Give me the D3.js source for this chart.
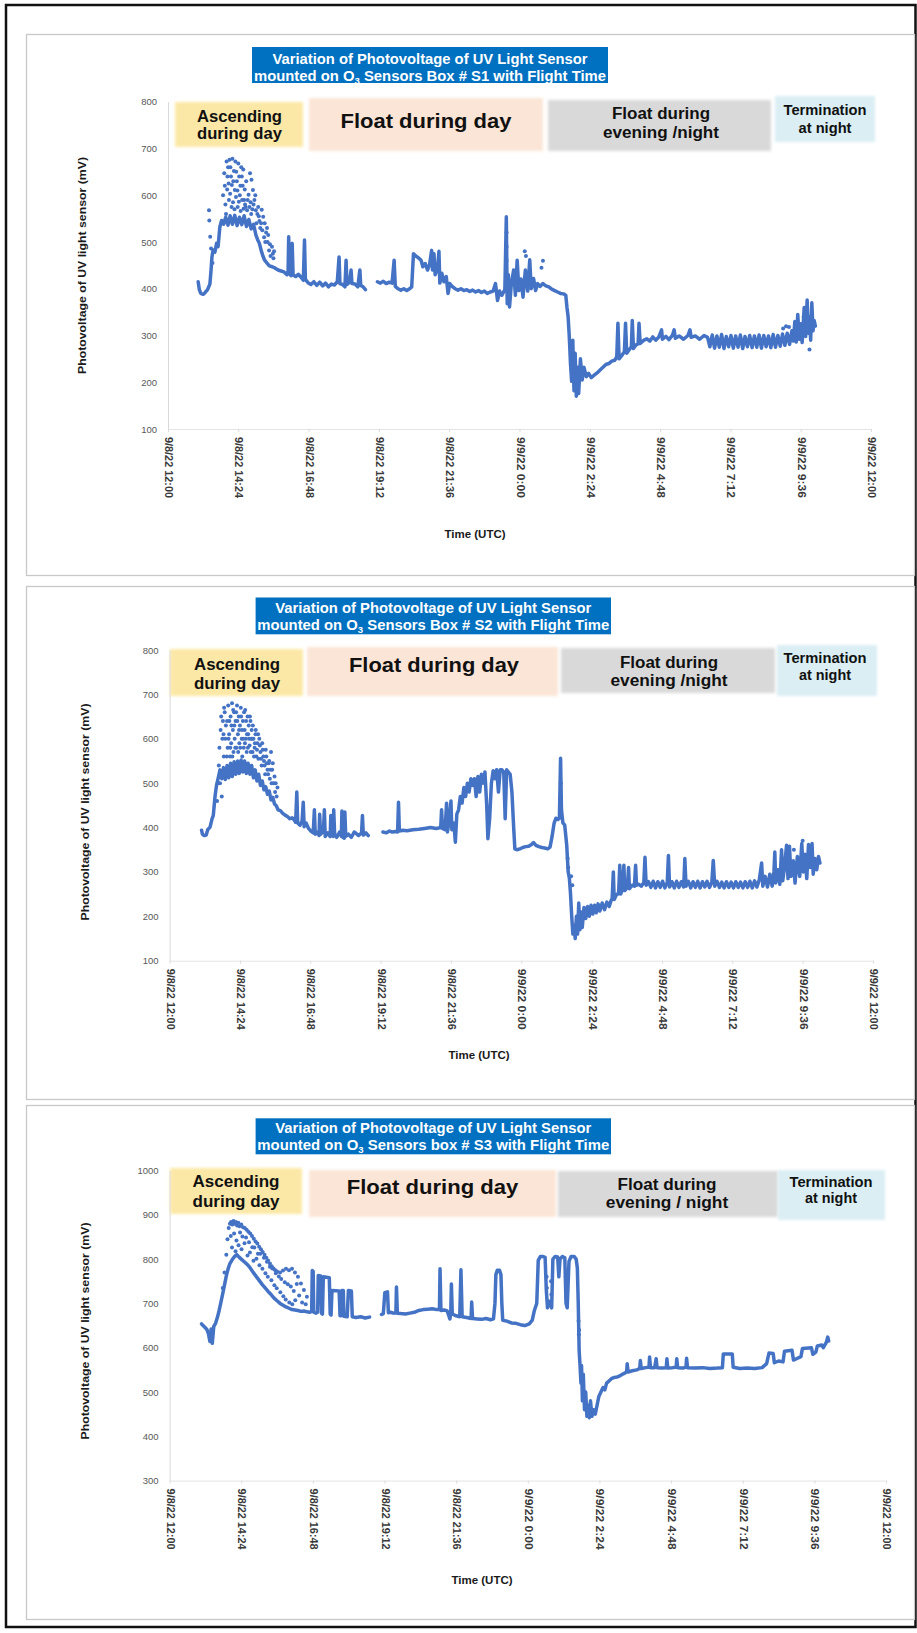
<!DOCTYPE html>
<html>
<head>
<meta charset="utf-8">
<script src="https://cdn.jsdelivr.net/npm/d3@7"></script>
<style>
  html, body { margin: 0; padding: 0; background: #fff; }
  svg { display: block; font-family: "Liberation Sans", Arial, sans-serif; }
</style>
</head>
<body>
<svg id="chart" width="917" height="1633"></svg>
<script>
// ---------------- data ----------------
// time is given in hours after 9/8/22 12:00 UTC
const tickHours = [0, 2.4, 4.8, 7.2, 9.6, 12, 14.4, 16.8, 19.2, 21.6, 24];
const tickLabels = ["9/8/22 12:00", "9/8/22 14:24", "9/8/22 16:48", "9/8/22 19:12", "9/8/22 21:36",
                    "9/9/22 0:00", "9/9/22 2:24", "9/9/22 4:48", "9/9/22 7:12", "9/9/22 9:36", "9/9/22 12:00"];
const yTicksLow = [100, 200, 300, 400, 500, 600, 700, 800];
const yTicksHigh = [300, 400, 500, 600, 700, 800, 900, 1000];

const titleLine1 = "Variation of Photovoltage of UV Light Sensor";
const phaseText = [["Ascending", "during day"], ["Float during day"], ["Float during", "evening /night"], ["Termination", "at night"]];
const phaseTextS3 = [["Ascending", "during day"], ["Float during day"], ["Float during", "evening / night"], ["Termination", "at night"]];
const xTitle = "Time (UTC)";
const yTitle = "Photovoltage of UV light sensor (mV)";

// Sensor box S1: main trace [hour, mV]; null marks a gap in the record
const s1Trace = [
  [1.03,415],[1.07,398],[1.12,390],[1.20,388],[1.27,392],[1.35,398],[1.43,410],[1.47,440],[1.50,468],[1.54,483],
  [1.60,478],[1.66,497],[1.71,490],[1.77,532],[1.83,546],[1.90,538],[1.97,553],[2.05,536],[2.12,556],[2.20,538],
  [2.28,557],[2.36,535],[2.44,553],[2.52,537],[2.60,556],[2.68,533],[2.76,548],[2.84,528],[2.92,538],[3.00,515],
  [3.06,505],[3.12,497],[3.18,482],[3.24,470],[3.30,461],[3.38,455],[3.46,449],[3.56,447],[3.66,444],[3.76,440],
  [3.86,438],[3.96,436],[4.06,430],[4.10,438],[4.12,511],[4.14,432],[4.20,428],[4.24,497],[4.27,430],[4.36,426],
  [4.45,431],[4.55,424],[4.62,418],[4.66,504],[4.69,420],[4.78,413],[4.88,409],[4.98,415],[5.08,407],[5.18,414],
  [5.28,406],[5.38,412],[5.48,404],[5.58,410],[5.68,408],[5.78,415],[5.84,468],[5.87,411],[5.96,409],[6.04,404],
  [6.08,461],[6.11,409],[6.20,414],[6.25,440],[6.28,411],[6.38,410],[6.48,404],[6.55,440],[6.58,407],[6.66,404],
  [6.74,398],
  [6.90,null],
  [7.15,415],[7.25,412],[7.35,416],[7.45,411],[7.55,414],[7.65,412],[7.72,461],[7.76,405],[7.85,400],[7.95,397],
  [8.05,400],[8.15,396],[8.25,400],[8.32,404],[8.38,475],[8.46,470],[8.55,466],[8.64,461],[8.70,447],[8.78,454],
  [8.86,440],[8.93,452],[9.00,482],[9.03,440],[9.08,475],[9.12,430],[9.20,442],[9.25,480],[9.28,412],[9.35,433],
  [9.42,415],[9.50,426],[9.56,390],[9.62,411],[9.70,405],[9.80,400],[9.90,397],[10.00,400],[10.10,396],[10.20,398],
  [10.30,394],[10.40,397],[10.50,393],[10.60,396],[10.70,392],[10.80,395],[10.90,390],[11.00,393],[11.10,395],[11.18,411],
  [11.25,375],[11.32,395],[11.40,386],[11.50,398],[11.55,554],[11.58,368],[11.62,430],[11.66,361],[11.72,410],[11.80,440],
  [11.86,386],[11.92,461],[11.98,396],[12.05,421],[12.12,382],[12.20,440],[12.28,395],[12.35,462],[12.40,400],[12.48,422],
  [12.55,396],[12.62,411],[12.70,405],[12.80,411],[12.90,406],[13.00,404],[13.10,399],[13.20,396],[13.30,393],[13.40,390],
  [13.50,389],[13.58,386],[13.62,360],[13.66,340],[13.70,297],[13.74,240],[13.78,202],[13.82,290],[13.86,182],[13.90,262],
  [13.94,170],[13.98,232],[14.02,176],[14.08,250],[14.14,205],[14.20,232],[14.28,212],[14.36,219],[14.45,210],[14.55,215],
  [14.65,220],[14.75,226],[14.85,232],[14.95,238],[15.05,240],[15.15,245],[15.25,247],[15.32,254],[15.36,326],[15.40,250],
  [15.50,258],[15.58,265],[15.62,326],[15.66,262],[15.75,270],[15.82,276],[15.85,332],[15.89,272],[15.98,280],[16.05,282],
  [16.08,326],[16.12,283],[16.25,290],[16.35,293],[16.45,288],[16.55,297],[16.65,290],[16.75,296],[16.85,312],[16.88,292],
  [17.00,298],[17.10,291],[17.22,300],[17.28,312],[17.32,294],[17.45,299],[17.60,292],[17.75,300],[17.82,312],[17.86,296],
  [18.00,299],[18.15,292],[18.30,300],[18.42,296],[18.50,276],[18.58,301],[18.66,273],[18.74,299],[18.82,275],[18.90,302],
  [18.98,272],[19.06,298],[19.14,276],[19.22,300],[19.30,273],[19.38,299],[19.46,275],[19.54,301],[19.62,272],[19.70,298],
  [19.78,276],[19.86,300],[19.94,274],[20.02,299],[20.10,275],[20.18,301],[20.26,273],[20.34,300],[20.42,276],[20.50,299],
  [20.58,274],[20.66,302],[20.74,275],[20.82,300],[20.90,277],[20.98,303],[21.06,279],[21.14,305],[21.22,281],[21.30,310],
  [21.35,288],[21.40,330],[21.45,286],[21.50,345],[21.55,292],[21.60,325],[21.65,285],[21.72,360],[21.77,298],[21.82,376],
  [21.86,305],[21.90,340],[21.94,290],[21.98,370],[22.02,310],[22.06,332],[22.10,320]
];
// Sensor box S1: scattered readings
const s1Dots = [
  [1.40,568],[1.41,546],[1.44,511],[1.47,486],[1.52,455],
  [1.88,600],[1.92,647],[1.96,580],[2.00,672],[2.02,612],[2.05,660],[2.08,590],[2.10,676],[2.12,603],[2.15,640],
  [2.18,622],[2.20,678],[2.22,585],[2.25,652],[2.28,611],[2.30,672],[2.32,596],[2.35,630],[2.38,575],[2.40,668],
  [2.42,586],[2.45,600],[2.48,566],[2.50,660],[2.52,640],[2.55,620],[2.58,571],[2.60,590],[2.62,612],[2.65,575],
  [2.70,568],[2.75,601],[2.80,647],[2.82,585],[2.85,633],[2.88,570],[2.90,611],[2.95,590],[3.00,568],[3.02,540],
  [3.05,560],[3.10,555],[3.15,530],[3.20,569],[3.25,554],[3.28,510],[3.30,540],[3.35,520],[3.38,530],[3.40,500],
  [3.45,482],[3.50,470],[3.55,490],[3.60,465],
  [1.94,620],[1.98,560],[2.03,640],[2.07,625],[2.13,660],[2.17,575],[2.23,630],[2.27,570],[2.33,650],[2.37,610],
  [2.43,640],[2.47,620],[2.53,590],[2.57,655],[2.63,580],[2.67,630],[2.72,590],[2.78,575],[2.84,560],[2.92,580],
  [2.98,600],[3.08,575],[3.12,545],[3.18,540],[3.22,525],[3.32,500],[3.42,515],[3.48,495],[3.58,475],[3.62,480],
  [11.56,520],[11.56,490],[11.56,460],[11.57,430],[12.18,480],[12.22,470],[12.75,445],[12.80,460],
  [21.00,315],[21.10,320],[21.20,318],[21.70,340],[21.90,270]
];

// Sensor box S2
const s2Trace = [
  [1.09,394],[1.12,385],[1.18,382],[1.25,383],[1.30,395],[1.38,401],[1.45,420],[1.49,427],[1.55,470],[1.60,495],
  [1.66,512],[1.72,530],[1.78,510],[1.84,535],[1.90,508],[1.96,540],[2.02,512],[2.08,545],[2.14,515],[2.20,548],
  [2.26,520],[2.32,550],[2.38,522],[2.44,552],[2.50,525],[2.56,550],[2.62,522],[2.68,545],[2.74,520],[2.80,540],
  [2.86,512],[2.92,530],[2.98,505],[3.04,520],[3.10,495],[3.16,505],[3.22,485],[3.28,492],[3.34,475],[3.40,482],
  [3.46,462],[3.52,468],[3.58,453],[3.64,449],[3.70,440],[3.78,438],[3.86,432],[3.94,428],[4.02,425],[4.10,420],
  [4.18,422],[4.24,418],[4.30,412],[4.34,480],[4.37,410],[4.45,405],[4.52,415],[4.56,457],[4.59,402],[4.66,410],
  [4.74,398],[4.82,392],[4.90,388],[4.94,440],[4.97,385],[5.05,390],[5.10,382],[5.12,430],[5.15,385],[5.25,392],
  [5.28,440],[5.31,380],[5.40,388],[5.48,380],[5.50,427],[5.53,384],[5.58,380],[5.60,440],[5.63,386],[5.70,378],
  [5.80,390],[5.86,380],[5.88,437],[5.91,378],[5.96,376],[5.98,435],[6.01,380],[6.10,385],[6.20,378],[6.30,390],
  [6.45,382],[6.55,388],[6.58,427],[6.61,383],[6.70,388],[6.78,382],
  [7.00,null],
  [7.28,390],[7.40,388],[7.50,392],[7.60,390],[7.70,391],[7.78,390],[7.81,457],[7.84,392],[7.95,394],[8.10,393],
  [8.30,395],[8.50,396],[8.70,398],[8.90,400],[9.10,398],[9.25,400],[9.28,440],[9.31,398],[9.40,395],[9.45,455],
  [9.48,390],[9.55,420],[9.60,460],[9.63,395],[9.70,410],[9.75,367],[9.80,430],[9.86,440],[9.92,470],[9.98,455],
  [10.04,490],[10.10,470],[10.16,500],[10.22,480],[10.28,510],[10.34,495],[10.40,510],[10.46,470],[10.52,515],[10.58,480],
  [10.64,520],[10.70,500],[10.76,525],[10.82,450],[10.86,375],[10.92,420],[10.98,500],[11.04,528],[11.10,510],[11.16,530],
  [11.22,480],[11.28,530],[11.34,530],[11.40,525],[11.45,420],[11.50,530],[11.56,525],[11.62,520],[11.68,480],[11.74,400],
  [11.78,352],[11.85,350],[11.95,352],[12.05,355],[12.15,357],[12.25,358],[12.35,362],[12.42,366],[12.50,360],[12.60,357],
  [12.70,355],[12.80,354],[12.90,352],[12.98,356],[13.05,380],[13.12,410],[13.18,421],[13.25,418],[13.30,421],[13.34,556],
  [13.37,440],[13.42,410],[13.48,406],[13.55,360],[13.60,300],[13.64,286],[13.68,250],[13.72,200],[13.76,160],[13.80,180],
  [13.84,150],[13.88,200],[13.92,160],[13.96,230],[14.00,170],[14.04,210],[14.08,175],[14.14,220],[14.20,195],[14.26,222],
  [14.32,200],[14.38,225],[14.44,205],[14.50,225],[14.56,208],[14.62,228],[14.68,212],[14.76,230],[14.84,215],[14.92,232],
  [15.00,222],[15.06,235],[15.10,240],[15.14,300],[15.17,238],[15.24,248],[15.32,252],[15.36,315],[15.39,250],[15.45,260],
  [15.50,315],[15.53,258],[15.62,265],[15.66,310],[15.69,262],[15.78,270],[15.86,268],[15.90,315],[15.93,270],[16.00,272],
  [16.10,268],[16.18,276],[16.22,333],[16.26,270],[16.34,278],[16.42,265],[16.50,279],[16.58,264],[16.66,278],[16.74,265],
  [16.82,279],[16.90,264],[16.98,276],[17.02,337],[17.06,266],[17.14,278],[17.22,264],[17.30,279],[17.38,265],[17.46,278],
  [17.54,266],[17.58,330],[17.62,268],[17.70,279],[17.78,264],[17.86,278],[17.94,265],[18.02,279],[18.10,264],[18.18,278],
  [18.26,266],[18.34,279],[18.42,265],[18.50,276],[18.55,326],[18.60,268],[18.68,279],[18.76,265],[18.84,277],[18.92,264],
  [19.00,278],[19.08,265],[19.16,277],[19.24,264],[19.32,278],[19.40,265],[19.48,277],[19.56,264],[19.64,278],[19.72,265],
  [19.80,279],[19.88,264],[19.96,280],[20.04,266],[20.12,282],[20.20,320],[20.24,268],[20.32,290],[20.40,266],[20.48,295],
  [20.56,268],[20.62,300],[20.65,345],[20.68,275],[20.76,305],[20.82,272],[20.88,350],[20.92,280],[20.98,310],[21.05,360],
  [21.10,285],[21.15,358],[21.20,290],[21.28,325],[21.34,275],[21.42,335],[21.50,290],[21.57,364],[21.62,300],[21.68,340],
  [21.74,285],[21.80,362],[21.86,310],[21.92,364],[21.96,295],[22.02,330],[22.08,305],[22.14,335],[22.19,320]
];
const s2Dots = [
  [1.62,460],[1.66,500],[1.70,580],[1.74,620],[1.78,470],[1.80,600],[1.82,640],[1.85,560],[1.88,660],[1.90,600],
  [1.93,520],[1.96,640],[1.98,580],[2.00,675],[2.03,610],[2.06,560],[2.08,650],[2.10,590],[2.13,680],[2.16,620],
  [2.18,570],[2.20,660],[2.22,600],[2.25,640],[2.28,580],[2.30,675],[2.33,610],[2.36,650],[2.38,590],[2.40,630],
  [2.43,670],[2.46,600],[2.48,560],[2.50,640],[2.53,580],[2.56,620],[2.58,665],[2.60,600],[2.63,570],[2.66,650],
  [2.68,610],[2.70,630],[2.73,585],[2.76,640],[2.78,600],[2.80,620],[2.83,570],[2.86,600],[2.90,580],[2.93,610],
  [2.96,560],[3.00,590],[3.03,555],[3.06,600],[3.10,570],[3.14,540],[3.18,575],[3.22,550],[3.26,520],[3.30,560],
  [3.34,530],[3.38,545],[3.42,510],[3.46,570],[3.50,530],[3.55,500],[3.60,480],[3.65,470],
  [1.68,540],[1.72,500],[1.76,650],[1.84,610],[1.86,670],[1.92,630],[1.95,560],[2.01,600],[2.04,640],[2.07,580],
  [2.11,630],[2.14,560],[2.17,665],[2.21,630],[2.24,580],[2.27,660],[2.31,640],[2.34,570],[2.37,620],[2.41,580],
  [2.44,650],[2.47,620],[2.51,600],[2.54,660],[2.57,590],[2.61,640],[2.64,610],[2.67,580],[2.71,600],[2.74,650],
  [2.77,570],[2.81,600],[2.84,630],[2.88,560],[2.91,590],[2.94,620],[2.98,575],[3.02,610],[3.08,585],[3.12,555],
  [3.16,590],[3.20,560],[3.24,540],[3.28,575],[3.32,545],[3.36,520],[3.40,550],[3.44,530],[3.48,500],[3.52,545],
  [3.58,515],[3.62,500],[3.68,490],
  [13.35,500],[13.35,470],[13.58,330],[13.60,310],[13.70,290],[13.74,270],[21.30,350],[21.60,370]
];

// Sensor box S3
const s3Trace = [
  [1.07,654],[1.12,650],[1.18,646],[1.25,641],[1.30,632],[1.35,614],[1.39,642],[1.43,610],[1.48,648],[1.54,655],
  [1.60,668],[1.66,684],[1.72,703],[1.78,722],[1.84,742],[1.90,762],[1.96,778],[2.02,790],[2.10,799],[2.18,806],
  [2.25,810],[2.32,805],[2.40,800],[2.50,794],[2.60,788],[2.70,780],[2.80,770],[2.90,761],[3.00,752],[3.10,743],
  [3.20,735],[3.30,727],[3.40,720],[3.50,712],[3.60,706],[3.70,700],[3.80,696],[3.90,692],[4.00,689],[4.10,686],
  [4.20,685],[4.30,684],[4.40,682],[4.50,683],[4.60,681],[4.70,680],[4.76,682],[4.78,774],[4.81,772],[4.83,680],
  [4.90,678],[4.96,680],[4.98,763],[5.06,762],[5.09,678],[5.12,676],[5.15,760],[5.35,758],[5.38,676],[5.41,674],
  [5.44,729],[5.68,728],[5.71,672],[5.75,672],[5.77,729],[5.82,729],[5.84,671],[5.95,670],[5.99,729],[6.09,728],
  [6.12,670],[6.25,668],[6.40,670],[6.55,667],[6.70,669],
  [6.90,null],
  [7.10,675],[7.16,677],[7.21,724],[7.30,726],[7.33,679],[7.40,680],[7.50,678],[7.58,679],[7.60,737],[7.63,678],
  [7.75,677],[7.90,676],[8.05,678],[8.20,680],[8.35,684],[8.50,686],[8.65,687],[8.80,688],[8.95,686],[9.04,686],
  [9.06,778],[9.09,684],[9.20,685],[9.30,683],[9.39,665],[9.42,680],[9.44,744],[9.47,676],[9.60,672],[9.72,670],
  [9.76,776],[9.80,670],[9.95,668],[10.10,666],[10.12,703],[10.15,666],[10.30,665],[10.45,664],[10.60,666],[10.75,663],
  [10.85,665],[10.90,700],[10.93,765],[10.98,775],[11.05,775],[11.10,765],[11.13,700],[11.16,662],[11.30,660],[11.45,656],
  [11.60,655],[11.75,652],[11.90,650],[12.05,654],[12.15,662],[12.22,684],[12.30,700],[12.35,797],[12.42,806],[12.50,806],
  [12.58,804],[12.62,730],[12.66,690],[12.72,705],[12.80,690],[12.84,800],[12.92,806],[13.00,805],[13.04,760],[13.08,800],
  [13.16,806],[13.24,803],[13.28,700],[13.32,690],[13.38,795],[13.45,806],[13.55,806],[13.62,800],[13.66,780],[13.69,700],
  [13.72,594],[13.75,560],[13.78,520],[13.80,560],[13.83,480],[13.86,540],[13.90,460],[13.94,500],[13.98,445],[14.02,470],
  [14.06,442],[14.10,480],[14.15,445],[14.20,460],[14.26,450],[14.32,470],[14.38,490],[14.45,500],[14.52,510],[14.58,505],
  [14.64,520],[14.72,525],[14.80,530],[14.90,533],[15.00,534],[15.10,537],[15.20,541],[15.31,545],[15.33,564],[15.36,545],
  [15.50,548],[15.65,550],[15.75,553],[15.77,571],[15.80,553],[15.95,555],[16.06,556],[16.08,579],[16.11,555],[16.25,555],
  [16.30,575],[16.33,555],[16.50,554],[16.64,555],[16.66,575],[16.69,554],[16.85,555],[16.97,556],[16.99,575],[17.02,555],
  [17.20,554],[17.30,556],[17.32,576],[17.35,555],[17.60,554],[17.85,555],[18.10,553],[18.35,554],[18.52,555],[18.55,586],
  [18.85,586],[18.88,556],[19.10,553],[19.35,554],[19.60,553],[19.85,555],[20.00,564],[20.08,588],[20.22,587],[20.26,566],
  [20.40,570],[20.55,568],[20.60,592],[20.85,594],[20.90,572],[21.00,575],[21.15,580],[21.20,598],[21.50,600],[21.55,585],
  [21.65,590],[21.70,604],[21.85,606],[21.90,600],[22.00,612],[22.05,624],[22.08,615]
];
const s3Dots = [
  [1.78,735],[1.84,770],[1.90,810],[1.94,845],[1.98,870],[2.02,880],[2.06,884],[2.10,878],[2.14,886],[2.18,880],
  [2.22,884],[2.26,876],[2.30,882],[2.34,874],[2.40,878],[2.46,872],[2.52,870],[2.58,866],[2.64,862],[2.70,858],
  [2.76,852],[2.82,846],[2.88,840],[2.94,835],[3.00,828],[3.06,822],[3.12,816],[3.18,810],[3.24,803],[3.30,797],
  [3.36,790],[3.42,784],[3.48,779],[3.54,775],[3.60,772],[3.70,770],[3.80,774],[3.90,778],[4.00,775],[4.10,778],
  [4.20,770],[4.30,760],[4.40,745],[4.50,730],[4.60,715],
  [2.05,852],[2.09,826],[2.16,858],[2.21,818],[2.24,842],[2.31,831],[2.36,860],[2.41,822],[2.44,851],[2.51,836],
  [2.56,849],[2.61,808],[2.66,838],[2.69,815],[2.77,827],[2.81,796],[2.84,826],[2.91,801],[2.96,812],[3.01,786],
  [3.04,812],[3.11,778],[3.16,803],[3.21,768],[3.26,794],[3.29,760],[3.36,783],[3.41,752],[3.44,779],[3.51,741],
  [3.56,768],[3.59,734],[3.66,761],[3.71,725],[3.74,755],[3.81,716],[3.86,748],[3.89,709],[3.96,743],[4.01,702],
  [4.06,738],[4.11,698],[4.16,728],[4.21,707],[4.26,744],[4.34,718],[4.44,702],[4.56,698],
  [12.63,760],[12.64,735],[12.78,750],[12.79,720],[13.27,760],[13.28,735],[13.30,710],[13.70,660],[13.71,630],[13.72,640]
];

// ---------------- styles & layout ----------------
const seriesColor = "#4472c4";
const titleFill = "#0070c0";
const phaseFill = ["#fce8a6", "#fbe5d6", "#d9d9d9", "#daeef3"];

const panels = [
  {
    key: "S1", boxWord: "Box", trace: s1Trace, dots: s1Dots, yTicks: yTicksLow, phases: phaseText,
    frame: { x: 26, y: 34, w: 888, h: 541 },
    title: { x: 252, y: 47, w: 356, h: 36, b1: 16.5, b2: 33.5, l1: 315, l2: 352 },
    plot: { x0: 168, x1: 871, yTop: 101.7, yBot: 429 },
    yTitle: { x: 82, y: 265.5 }, xTitle: { x: 475, y: 538 },
    boxes: [
      { x: 175, y: 102, w: 128, h: 45, tx: 239.5, ty: [122, 139], fs: 16, tl: [85, 85] },
      { x: 309, y: 98, w: 234, h: 53, tx: 426, ty: [128], fs: 19.5, tl: [171] },
      { x: 548, y: 100, w: 223, h: 51, tx: 661, ty: [119, 138], fs: 16, tl: [98, 116] },
      { x: 775, y: 96, w: 100, h: 46, tx: 825, ty: [115, 133], fs: 14, tl: [83, 53] }
    ]
  },
  {
    key: "S2", boxWord: "Box", trace: s2Trace, dots: s2Dots, yTicks: yTicksLow, phases: phaseText,
    frame: { x: 26, y: 586, w: 888, h: 513 },
    title: { x: 255.6, y: 597.5, w: 355.4, h: 36.8, b1: 15.5, b2: 32.5, l1: 316, l2: 352 },
    plot: { x0: 169.6, x1: 873, yTop: 650, yBot: 960.7 },
    yTitle: { x: 85, y: 812 }, xTitle: { x: 479, y: 1059 },
    boxes: [
      { x: 170, y: 649, w: 133, h: 47, tx: 237, ty: [670, 689], fs: 16, tl: [86, 86] },
      { x: 307, y: 647, w: 251, h: 49, tx: 434, ty: [672], fs: 19.5, tl: [170] },
      { x: 561, y: 648, w: 214, h: 45, tx: 669, ty: [668, 686], fs: 16, tl: [98, 117] },
      { x: 777, y: 645, w: 100, h: 51, tx: 825, ty: [663, 680], fs: 14, tl: [83, 52] }
    ]
  },
  {
    key: "S3", boxWord: "box", trace: s3Trace, dots: s3Dots, yTicks: yTicksHigh, phases: phaseTextS3,
    frame: { x: 26, y: 1105, w: 888, h: 514 },
    title: { x: 255.6, y: 1118.3, w: 355.4, h: 36, b1: 15, b2: 32, l1: 316, l2: 352 },
    plot: { x0: 169.6, x1: 886, yTop: 1170.5, yBot: 1480.6 },
    yTitle: { x: 85, y: 1331 }, xTitle: { x: 482, y: 1584 },
    boxes: [
      { x: 170, y: 1168, w: 132, h: 46, tx: 236, ty: [1187, 1206.5], fs: 16, tl: [87, 87] },
      { x: 309, y: 1170, w: 247, h: 47, tx: 432.5, ty: [1194], fs: 19.5, tl: [171.5] },
      { x: 558, y: 1171, w: 220, h: 46, tx: 667, ty: [1190, 1208], fs: 16, tl: [99, 122.5] },
      { x: 778, y: 1170, w: 107, h: 50, tx: 831, ty: [1187, 1203], fs: 14, tl: [83, 52] }
    ]
  }
];

// ---------------- drawing ----------------
const svg = d3.select("#chart");
const defs = svg.append("defs");
defs.append("filter").attr("id", "soft")
  .attr("x", "-10%").attr("y", "-20%").attr("width", "120%").attr("height", "140%")
  .append("feGaussianBlur").attr("stdDeviation", 1.6);

svg.append("rect").attr("width", 917).attr("height", 1633).attr("fill", "#fff");
svg.append("rect")
  .attr("x", 6).attr("y", 5).attr("width", 909.5).attr("height", 1622)
  .attr("fill", "none").attr("stroke", "#111").attr("stroke-width", 2.5);

panels.forEach(p => {
  const g = svg.append("g").attr("class", "panel-" + p.key);

  g.append("rect")
    .attr("x", p.frame.x + 0.5).attr("y", p.frame.y + 0.5)
    .attr("width", p.frame.w).attr("height", p.frame.h)
    .attr("fill", "#fff").attr("stroke", "#c8c8c8").attr("stroke-width", 1.3);

  const x = d3.scaleLinear().domain([0, 24]).range([p.plot.x0, p.plot.x1]);
  const y = d3.scaleLinear().domain([p.yTicks[0], p.yTicks[p.yTicks.length - 1]]).range([p.plot.yBot, p.plot.yTop]);

  // flight phase banners
  p.boxes.forEach((b, i) => {
    g.append("rect")
      .attr("x", b.x).attr("y", b.y).attr("width", b.w).attr("height", b.h)
      .attr("fill", phaseFill[i]).attr("filter", "url(#soft)");
    p.phases[i].forEach((line, j) => {
      g.append("text")
        .attr("x", b.tx).attr("y", b.ty[j])
        .attr("text-anchor", "middle")
        .attr("font-size", b.fs).attr("font-weight", "bold").attr("fill", "#111")
        .attr("textLength", b.tl[j]).attr("lengthAdjust", "spacingAndGlyphs")
        .text(line);
    });
  });

  // y axis
  const yAx = g.append("g")
    .attr("transform", `translate(${p.plot.x0},0)`)
    .call(d3.axisLeft(y).tickValues(p.yTicks).tickFormat(d3.format("d"))
      .tickSize(0).tickSizeOuter(0).tickPadding(11));
  yAx.select(".domain").attr("stroke", "#d9d9d9").attr("stroke-width", 1);
  yAx.selectAll(".tick text")
    .attr("font-family", "'Liberation Sans', Arial, sans-serif")
    .attr("font-size", 9.5).attr("fill", "#595959");

  // x axis with vertical date labels
  const xAx = g.append("g")
    .attr("transform", `translate(0,${p.plot.yBot})`)
    .call(d3.axisBottom(x).tickValues(tickHours).tickFormat((d, i) => tickLabels[i]).tickSize(3).tickSizeOuter(0));
  xAx.select(".domain").attr("stroke", "#e4e4e4");
  xAx.selectAll(".tick line").attr("stroke", "#dcdcdc");
  xAx.selectAll(".tick text")
    .attr("font-family", "'Liberation Sans', Arial, sans-serif")
    .attr("font-size", 10).attr("font-weight", "bold").attr("fill", "#3a3a3a")
    .attr("transform", "rotate(90)")
    .attr("x", 8).attr("y", 0).attr("dy", "0.35em")
    .attr("textLength", 61).attr("lengthAdjust", "spacingAndGlyphs")
    .style("text-anchor", "start");

  // axis titles
  g.append("text")
    .attr("transform", `translate(${p.yTitle.x},${p.yTitle.y}) rotate(-90)`)
    .attr("text-anchor", "middle").attr("dy", "0.35em")
    .attr("font-size", 11).attr("font-weight", "bold").attr("fill", "#1a1a1a")
    .attr("textLength", 217).attr("lengthAdjust", "spacingAndGlyphs")
    .text(yTitle);
  g.append("text")
    .attr("x", p.xTitle.x).attr("y", p.xTitle.y)
    .attr("text-anchor", "middle")
    .attr("font-size", 11.5).attr("font-weight", "bold").attr("fill", "#1a1a1a")
    .text(xTitle);

  // sensor readings
  const line = d3.line()
    .defined(d => d[1] !== null)
    .x(d => x(d[0])).y(d => y(d[1]));
  g.append("path")
    .datum(p.trace)
    .attr("d", line)
    .attr("fill", "none").attr("stroke", seriesColor)
    .attr("stroke-width", 3.5).attr("stroke-linejoin", "round").attr("stroke-linecap", "round");
  g.append("g").selectAll("circle")
    .data(p.dots)
    .join("circle")
    .attr("cx", d => x(d[0])).attr("cy", d => y(d[1]))
    .attr("r", 2).attr("fill", seriesColor);

  // chart title banner
  const t = p.title;
  const cx = t.x + t.w / 2;
  g.append("rect").attr("x", t.x).attr("y", t.y).attr("width", t.w).attr("height", t.h).attr("fill", titleFill);
  g.append("text")
    .attr("x", cx).attr("y", t.y + t.b1).attr("text-anchor", "middle")
    .attr("font-size", 14).attr("font-weight", "bold").attr("fill", "#fff")
    .attr("textLength", t.l1).attr("lengthAdjust", "spacingAndGlyphs")
    .text(titleLine1);
  const t2 = g.append("text")
    .attr("x", cx).attr("y", t.y + t.b2).attr("text-anchor", "middle")
    .attr("font-size", 14).attr("font-weight", "bold").attr("fill", "#fff")
    .attr("textLength", t.l2).attr("lengthAdjust", "spacingAndGlyphs");
  t2.append("tspan").text("mounted on O");
  t2.append("tspan").attr("dy", 3).attr("font-size", 9).text("3");
  t2.append("tspan").attr("dy", -3).text(` Sensors ${p.boxWord} # ${p.key} with Flight Time`);
});
</script>
</body>
</html>
